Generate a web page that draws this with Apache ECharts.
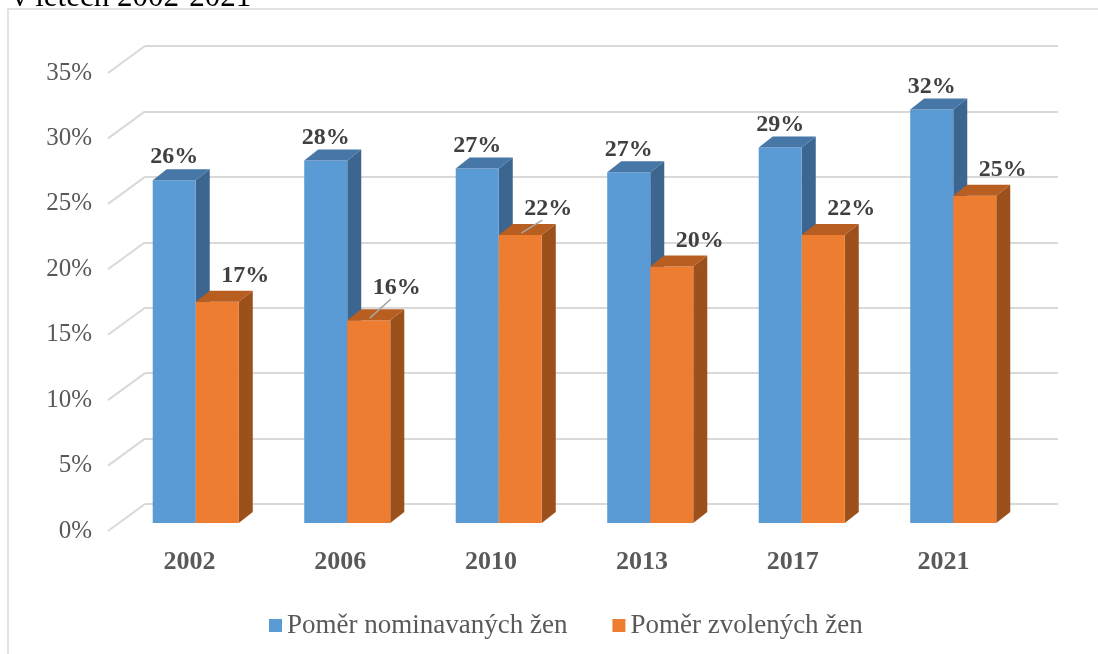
<!DOCTYPE html>
<html><head><meta charset="utf-8">
<script src="https://cdn.jsdelivr.net/npm/echarts@6/dist/echarts.min.js"></script>
<style>html,body{margin:0;padding:0;background:#fff}#c{width:1098px;height:654px}</style>
</head><body><div id="c"></div>
<script>
// ---- data ----
const years = ['2002', '2006', '2010', '2013', '2017', '2021'];
const nominated = [0.262, 0.277, 0.271, 0.268, 0.287, 0.316];
const elected = [0.169, 0.155, 0.220, 0.196, 0.220, 0.250];
const yTicks = [0, 0.05, 0.10, 0.15, 0.20, 0.25, 0.30, 0.35];
const seriesNames = ['Poměr nominavaných žen', 'Poměr zvolených žen'];
const titleText = 'v letech 2002-2021';

// ---- styles ----
const FONT = '"Liberation Serif", "Times New Roman", serif';
const blueFaces = { front: '#5B9BD5', side: '#3C6690', top: '#4677A7' };
const orangeFaces = { front: '#ED7D31', side: '#9C501C', top: '#B85E21' };
const DEPTH = [14, -11];
const electedLeader = [false, true, true, false, false, false];
const electedLift = [0, 6, 0, 0, 0, 0];

function pct(v) { return Math.round(v * 100) + '%'; }

function barRenderer(side, faces, labelOff, leader, lift) {
  return function (params, api) {
    const i = api.value(0), v = api.value(1);
    const top = api.coord([i, v]);
    const base = api.coord([i, 0]);
    const band = api.size([1, 0])[0];
    const w = band * 0.284;
    const x0 = side === 0 ? top[0] - w : top[0];
    const x1 = x0 + w;
    const yT = top[1], yB = base[1];
    const dx = DEPTH[0], dy = DEPTH[1];
    const cx = (x0 + x1) / 2;
    const lx = cx + labelOff[0];
    const ly = yT + labelOff[1] - (lift ? lift[i] : 0);
    const children = [
      { type: 'polygon', shape: { points: [[x1, yT], [x1 + dx, yT + dy], [x1 + dx, yB + dy], [x1, yB]] }, style: { fill: faces.side } },
      { type: 'rect', shape: { x: x0, y: yT, width: w, height: yB - yT }, style: { fill: faces.front } },
      { type: 'polygon', shape: { points: [[x0, yT], [x0 + dx, yT + dy], [x1 + dx, yT + dy], [x1, yT]] }, style: { fill: faces.top } }
    ];
    if (leader && leader[i]) {
      children.push({ type: 'line', shape: { x1: cx + 1, y1: yT - 2, x2: lx - 6, y2: ly + 11 }, style: { stroke: '#A6A6A6', lineWidth: 1.5 } });
    }
    children.push({ type: 'text', style: { text: pct(v), x: lx, y: ly, align: 'center', verticalAlign: 'middle', font: 'bold 24px ' + FONT, fill: '#404040' } });
    return { type: 'group', children };
  };
}

const chart = echarts.init(document.getElementById('c'), null, { renderer: 'canvas' });
chart.setOption({
  animation: false,
  backgroundColor: '#fff',
  color: [blueFaces.front, orangeFaces.front],
  graphic: [
    { type: 'rect', shape: { x: 8, y: 9, width: 1200, height: 800 }, style: { fill: null, stroke: '#D9D9D9', lineWidth: 1.5 }, z: -10 },
    { type: 'text', x: 12, y: 13, style: { text: titleText, font: '31px ' + FONT, fill: '#000', verticalAlign: 'bottom' } }
  ],
  legend: {
    data: seriesNames,
    left: 264, top: 607,
    icon: 'rect', itemWidth: 13, itemHeight: 13, itemGap: 45,
    textStyle: { fontFamily: FONT, fontSize: 27, color: '#595959' }
  },
  grid: [
    { left: 120, right: 69, top: 65, bottom: 131 },   // bar plane
    { left: 145, right: 40, top: 46, bottom: 150 },   // back wall
    { left: 114, right: 79, top: 73, bottom: 123 }    // front plane (labels)
  ],
  xAxis: [
    { gridIndex: 0, type: 'category', data: years, show: false },
    { gridIndex: 1, type: 'value', min: 0, max: 1, show: false },
    { gridIndex: 2, type: 'category', data: years,
      axisLine: { show: false }, axisTick: { show: false },
      axisLabel: { margin: 18, fontFamily: FONT, fontSize: 26, fontWeight: 'bold', color: '#595959' } }
  ],
  yAxis: [
    { gridIndex: 0, type: 'value', min: 0, max: 0.35, interval: 0.05, show: false },
    { gridIndex: 1, type: 'value', min: 0, max: 0.35, interval: 0.05,
      axisLine: { show: false }, axisTick: { show: false }, axisLabel: { show: false },
      splitLine: { show: true, lineStyle: { color: '#D9D9D9', width: 2 } } },
    { gridIndex: 2, type: 'value', min: 0, max: 0.35, interval: 0.05,
      axisLine: { show: false }, axisTick: { show: false }, splitLine: { show: false },
      axisLabel: { margin: 22, fontFamily: FONT, fontSize: 25, color: '#595959', formatter: function (v) { return pct(v); } } }
  ],
  series: [
    {
      type: 'custom', name: 'diagonals', xAxisIndex: 1, yAxisIndex: 1, silent: true, z: 1,
      data: yTicks.map(function (t) { return [0, t]; }),
      renderItem: function (params, api) {
        const p = api.coord([0, api.value(1)]);
        return { type: 'line', shape: { x1: p[0], y1: p[1], x2: p[0] - 37, y2: p[1] + 27 }, style: { stroke: '#D9D9D9', lineWidth: 2 } };
      }
    },
    {
      type: 'custom', name: seriesNames[0], xAxisIndex: 0, yAxisIndex: 0, z: 3,
      itemStyle: { color: blueFaces.front },
      data: nominated.map(function (v, i) { return [i, v]; }),
      renderItem: barRenderer(0, blueFaces, [0, -23], null, null)
    },
    {
      type: 'custom', name: seriesNames[1], xAxisIndex: 0, yAxisIndex: 0, z: 4,
      itemStyle: { color: orangeFaces.front },
      data: elected.map(function (v, i) { return [i, v]; }),
      renderItem: barRenderer(1, orangeFaces, [28, -26], electedLeader, electedLift)
    }
  ]
});
</script>
</body></html>
